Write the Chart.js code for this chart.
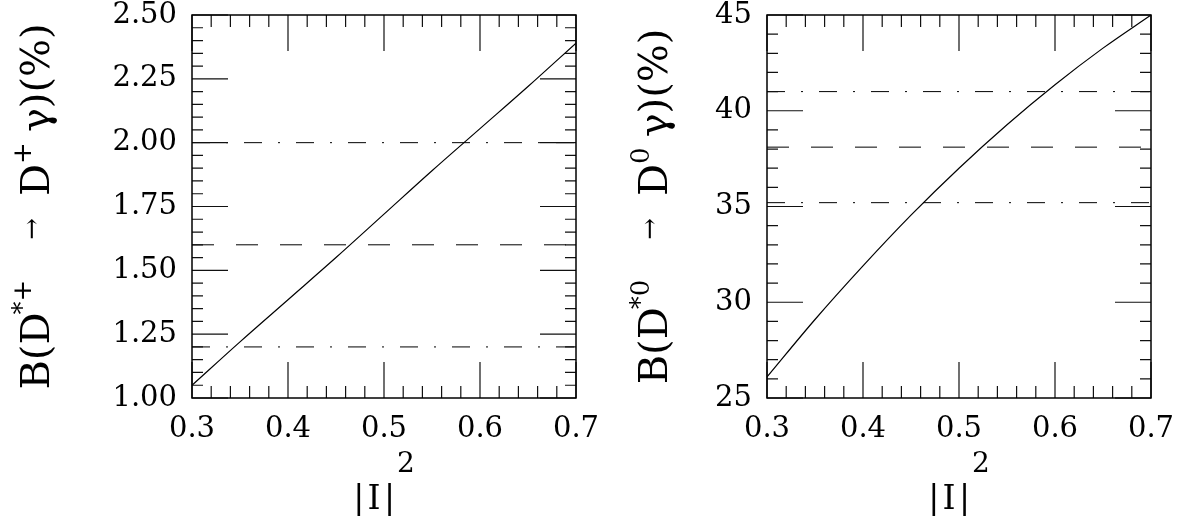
<!DOCTYPE html>
<html>
<head>
<meta charset="utf-8">
<script src="https://cdn.jsdelivr.net/npm/chart.js@4.4.1/dist/chart.umd.min.js"></script>
<style>
  html, body { margin: 0; padding: 0; background: #fff; }
  #wrap { position: relative; width: 1188px; height: 516px; }
  canvas { position: absolute; top: 0; }
  #left { left: 0; }
  #right { left: 600px; }
</style>
</head>
<body>
<div id="wrap">
  <canvas id="left" width="600" height="516"></canvas>
  <canvas id="right" width="588" height="516"></canvas>
</div>
<script>
// |I|^2 values where the curves were read
const iSquared = [0.30, 0.35, 0.40, 0.45, 0.50, 0.55, 0.60, 0.65, 0.70];
// B(D*+ -> D+ gamma) in %
const brCharged = [1.05, 1.22, 1.385, 1.55, 1.72, 1.89, 2.055, 2.22, 2.39];
// B(D*0 -> D0 gamma) in %
const brNeutral = [26.1, 29.1, 31.9, 34.55, 37.0, 39.27, 41.36, 43.27, 45.0];
// measured values: lower, central, upper
const chargedMeasured = [1.20, 1.60, 2.00];
const neutralMeasured = [35.2, 38.1, 41.0];

const xTickLabels = ['0.3', '0.4', '0.5', '0.6', '0.7'];
const chargedTickLabels = ['1.00', '1.25', '1.50', '1.75', '2.00', '2.25', '2.50'];
const neutralTickLabels = ['25', '30', '35', '40', '45'];

const FONT = '"DejaVu Serif", "Liberation Serif", serif';
const DASH = [22, 22];
const DASHDOT = [18, 16, 2, 16];

// inward ticks on all four sides + frame
const framePlugin = {
  id: 'frame',
  afterDatasetsDraw(chart, args, opts) {
    const ctx = chart.ctx;
    const a = chart.chartArea;
    const x = chart.scales.x, y = chart.scales.y;
    ctx.save();
    ctx.strokeStyle = '#111';
    ctx.lineWidth = 1.2;
    ctx.beginPath();
    const each = (sc, step, fn) => {
      const n = Math.round((sc.max - sc.min) / step);
      for (let i = 0; i <= n; i++) fn(sc.getPixelForValue(sc.min + i * step));
    };
    const xt = (len) => (px) => {
      ctx.moveTo(px, a.bottom); ctx.lineTo(px, a.bottom - len);
      ctx.moveTo(px, a.top); ctx.lineTo(px, a.top + len);
    };
    const yt = (len) => (py) => {
      ctx.moveTo(a.left, py); ctx.lineTo(a.left + len, py);
      ctx.moveTo(a.right, py); ctx.lineTo(a.right - len, py);
    };
    each(x, opts.xMinor, xt(12));
    each(x, opts.xMajor, xt(36));
    each(y, opts.yMinor, yt(11));
    each(y, opts.yMajor, yt(36));
    ctx.stroke();
    ctx.lineWidth = 1.5;
    ctx.strokeStyle = '#000';
    ctx.strokeRect(a.left, a.top, a.right - a.left, a.bottom - a.top);
    ctx.restore();
  }
};

function runsWidth(ctx, runs) {
  let w = 0;
  runs.forEach(r => {
    ctx.font = r.size + 'px ' + FONT;
    w += (r.gap || 0) + ctx.measureText(r.text).width;
  });
  return w;
}
function drawRuns(ctx, runs, x0) {
  let x = x0;
  runs.forEach(r => {
    ctx.font = r.size + 'px ' + FONT;
    x += r.gap || 0;
    ctx.fillText(r.text, x, -(r.rise || 0));
    x += ctx.measureText(r.text).width;
  });
}

const titlePlugin = {
  id: 'titles',
  afterDraw(chart, args, opts) {
    const ctx = chart.ctx;
    const a = chart.chartArea;
    ctx.save();
    ctx.fillStyle = '#000';
    ctx.textBaseline = 'alphabetic';
    ctx.textAlign = 'left';
    // x title
    const xw = runsWidth(ctx, opts.xRuns);
    ctx.save();
    ctx.translate((a.left + a.right) / 2, opts.xBaseline);
    drawRuns(ctx, opts.xRuns, -xw / 2);
    ctx.restore();
    // y title, rotated
    const yw = runsWidth(ctx, opts.yRuns);
    ctx.translate(opts.yBaseline, (a.top + a.bottom) / 2);
    ctx.rotate(-Math.PI / 2);
    drawRuns(ctx, opts.yRuns, -yw / 2);
    ctx.restore();
  }
};

function hline(v, dash) {
  return {
    data: [{ x: 0.3, y: v }, { x: 0.7, y: v }],
    borderColor: '#000', borderWidth: 1, borderDash: dash,
    pointRadius: 0, tension: 0
  };
}

function makeChart(id, values, measured, yLabels, cfg) {
  const xTickVals = xTickLabels.map(Number);
  const yTickVals = yLabels.map(Number);
  return new Chart(document.getElementById(id), {
    type: 'line',
    data: {
      datasets: [
        {
          data: iSquared.map((x, i) => ({ x: x, y: values[i] })),
          borderColor: '#000', borderWidth: 1.2, pointRadius: 0,
          cubicInterpolationMode: 'monotone'
        },
        hline(measured[0], DASHDOT),
        hline(measured[1], DASH),
        hline(measured[2], DASHDOT)
      ]
    },
    options: {
      responsive: false,
      animation: false,
      devicePixelRatio: 1,
      layout: { padding: { top: 15, right: cfg.padRight, left: 0, bottom: 0 } },
      plugins: {
        legend: { display: false },
        tooltip: { enabled: false },
        frame: cfg.frame,
        titles: cfg.titles
      },
      scales: {
        x: {
          type: 'linear',
          min: 0.3, max: 0.7,
          grid: { display: false, drawTicks: false },
          border: { display: false },
          afterBuildTicks: (axis) => { axis.ticks = xTickVals.map(v => ({ value: v })); },
          afterFit: (axis) => { axis.height = 118; axis.paddingLeft = 0; axis.paddingRight = 0; },
          ticks: {
            autoSkip: false, maxRotation: 0, padding: 14,
            color: '#000', font: { family: FONT, size: 29 },
            callback: (v, i) => xTickLabels[i]
          }
        },
        y: {
          min: yTickVals[0], max: yTickVals[yTickVals.length - 1],
          grid: { display: false, drawTicks: false },
          border: { display: false },
          afterBuildTicks: (axis) => { axis.ticks = yTickVals.map(v => ({ value: v })); },
          afterFit: (axis) => { axis.width = cfg.yWidth; axis.paddingTop = 0; axis.paddingBottom = 0; },
          ticks: {
            autoSkip: false, padding: 15,
            color: '#000', font: { family: FONT, size: 29 },
            callback: (v, i) => yLabels[i]
          }
        }
      }
    },
    plugins: [framePlugin, titlePlugin]
  });
}

const xRuns = [
  { text: '|\u200aI\u200a|', size: 33 },
  { text: '2', size: 28, rise: 37, gap: 2 }
];

makeChart('left', brCharged, chargedMeasured, chargedTickLabels, {
  yWidth: 192, padRight: 24,
  frame: { xMajor: 0.1, xMinor: 0.02, yMajor: 0.25, yMinor: 0.05 },
  titles: {
    xRuns: xRuns, xBaseline: 509, yBaseline: 49,
    yRuns: [
      { text: 'B(D', size: 40 },
      { text: '*+', size: 26, rise: 18, gap: -2 },
      { text: '\u2192', size: 26, rise: 9, gap: 40 },
      { text: 'D', size: 40, gap: 22 },
      { text: '+', size: 26, rise: 18 },
      { text: '\u03b3)(%)', size: 40, gap: 10 }
    ]
  }
});

makeChart('right', brNeutral, neutralMeasured, neutralTickLabels, {
  yWidth: 167, padRight: 37,
  frame: { xMajor: 0.1, xMinor: 0.02, yMajor: 5, yMinor: 1 },
  titles: {
    xRuns: xRuns, xBaseline: 509, yBaseline: 67,
    yRuns: [
      { text: 'B(D', size: 40 },
      { text: '*0', size: 26, rise: 18, gap: -2 },
      { text: '\u2192', size: 26, rise: 9, gap: 40 },
      { text: 'D', size: 40, gap: 22 },
      { text: '0', size: 26, rise: 18 },
      { text: '\u03b3)(%)', size: 40, gap: 10 }
    ]
  }
});
</script>
</body>
</html>
